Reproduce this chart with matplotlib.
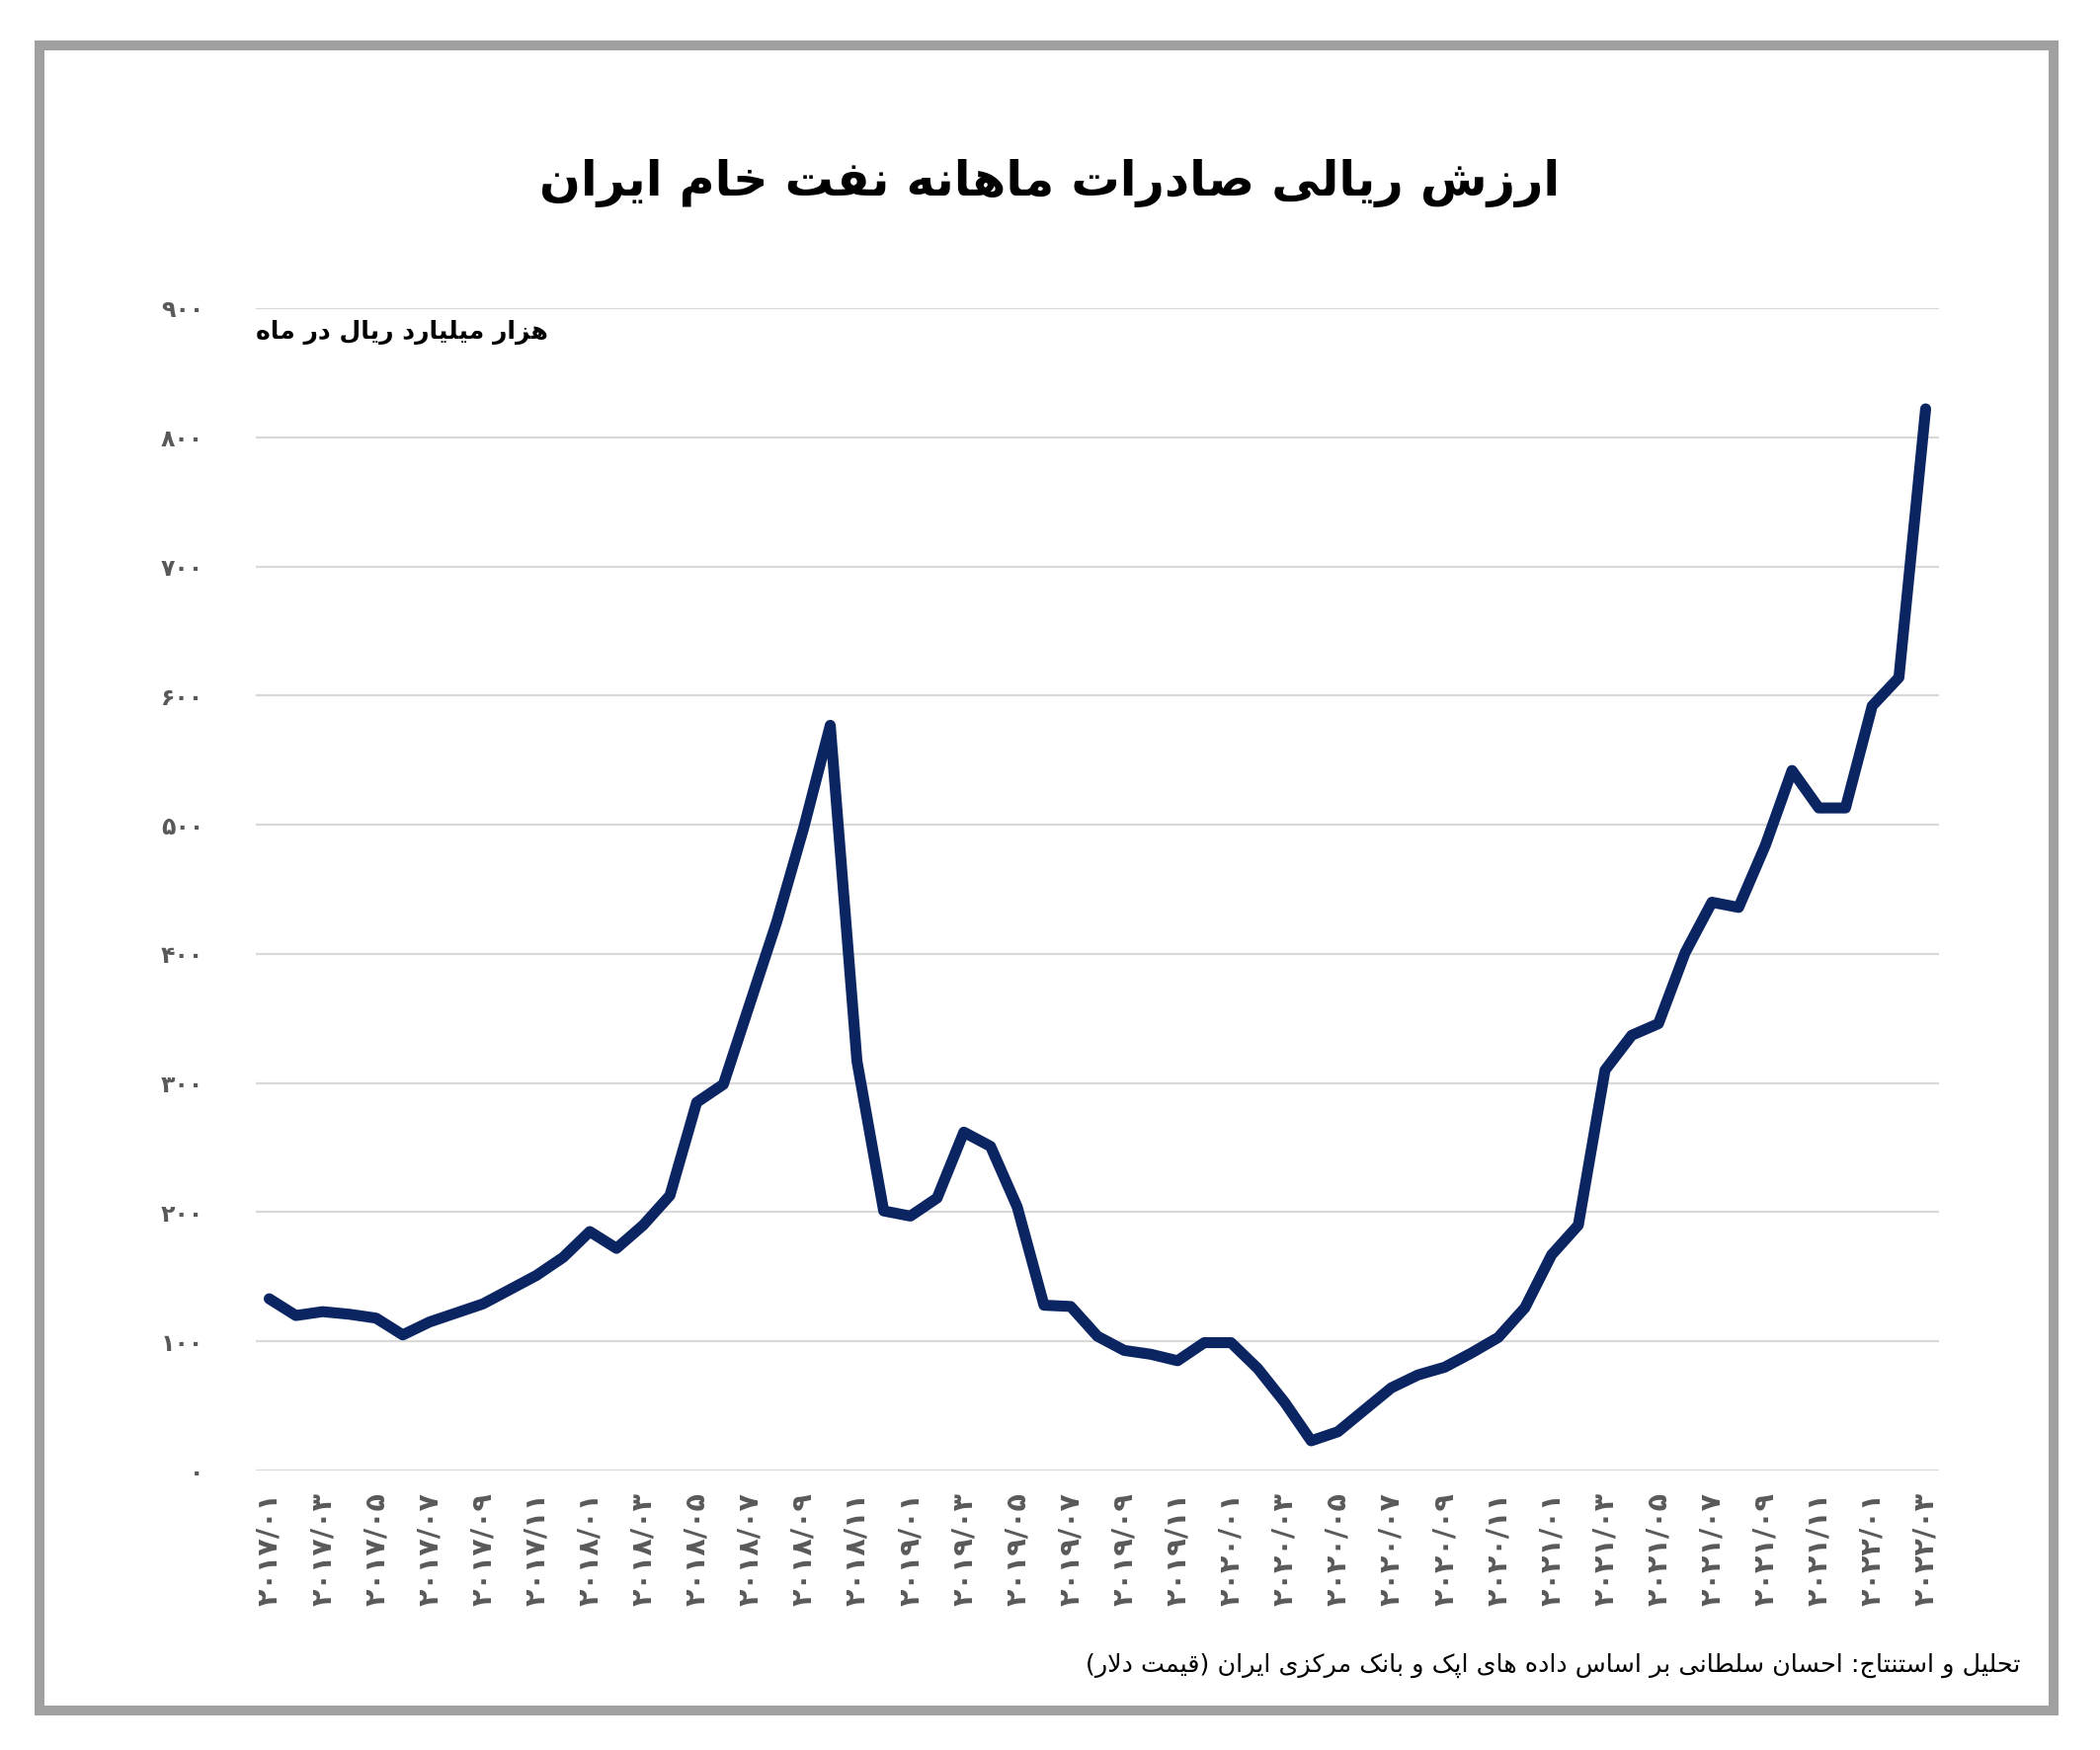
import matplotlib
matplotlib.use("Agg")
import matplotlib.pyplot as plt
from matplotlib.patches import Rectangle

# ---------------- data ----------------
months = [f"{y}/{m:02d}" for y in range(2017, 2023) for m in range(1, 13)][:63]
values = [133, 120, 123, 121, 118, 105, 115, 122, 129, 140, 151, 165,
          185, 172, 190, 213, 285, 299, 362, 425, 497, 577, 317, 201,
          197, 211, 262, 251, 204, 128, 127, 104, 93, 90, 85, 99,
          99, 79, 53, 23, 30, 47, 64, 74, 80, 91, 103, 126,
          167, 190, 310, 337, 346, 401, 440, 436, 484, 542, 513, 513,
          592, 614, 822]
yticks = [0, 100, 200, 300, 400, 500, 600, 700, 800, 900]

title_text = "ارزش ریالی صادرات ماهانه نفت خام ایران"
unit_text = "هزار میلیارد ریال در ماه"
source_text = "تحلیل و استنتاج: احسان سلطانی بر اساس داده های اپک و بانک مرکزی ایران (قیمت دلار)"

# ---------------- Persian shaping ----------------
def _f(base, n):
    return tuple(chr(base + k) for k in range(n))

FORMS = {}
for ch, base in [('ب', 0xFE8F), ('ت', 0xFE95), ('ث', 0xFE99), ('ج', 0xFE9D), ('ح', 0xFEA1),
                 ('خ', 0xFEA5), ('س', 0xFEB1), ('ش', 0xFEB5), ('ص', 0xFEB9), ('ض', 0xFEBD),
                 ('ط', 0xFEC1), ('ظ', 0xFEC5), ('ع', 0xFEC9), ('غ', 0xFECD), ('ف', 0xFED1),
                 ('ق', 0xFED5), ('ل', 0xFEDD), ('م', 0xFEE1), ('ن', 0xFEE5), ('ه', 0xFEE9),
                 ('پ', 0xFB56), ('چ', 0xFB7A), ('ک', 0xFB8E), ('گ', 0xFB92), ('ی', 0xFBFC)]:
    FORMS[ch] = _f(base, 4)
for ch, base in [('ا', 0xFE8D), ('د', 0xFEA9), ('ذ', 0xFEAB), ('ر', 0xFEAD), ('ز', 0xFEAF),
                 ('و', 0xFEED), ('ژ', 0xFB8A)]:
    FORMS[ch] = _f(base, 2) + (None, None)


def shape(text):
    chars = list(text)
    n = len(chars)
    res = []
    i = 0
    while i < n:
        c = chars[i]
        if c not in FORMS:
            res.append(c)
            i += 1
            continue
        prev = chars[i - 1] if i > 0 else None
        cp = prev in FORMS and FORMS[prev][2] is not None
        if c == 'ل' and i + 1 < n and chars[i + 1] == 'ا':
            res.append('\uFEFC' if cp else '\uFEFB')
            i += 2
            continue
        nxt = chars[i + 1] if i + 1 < n else None
        cn = FORMS[c][2] is not None and nxt in FORMS
        iso, fin, ini, med = FORMS[c]
        if cp and cn:
            g = med
        elif cp:
            g = fin
        elif cn:
            g = ini
        else:
            g = iso
        res.append(g)
        i += 1
    vis = ''.join(res)[::-1]
    vis = vis.translate(str.maketrans({'(': ')', ')': '('}))
    return vis


def fa_digits(s):
    return s.translate(str.maketrans("0123456789", "۰۱۲۳۴۵۶۷۸۹"))


# ---------------- figure ----------------
W, H = 2126, 1772
fig = plt.figure(figsize=(W / 100, H / 100), dpi=100)
fig.patch.set_facecolor("white")
plt.rcParams['font.family'] = ['DejaVu Sans']

left, right, top, bottom = 259, 1963, 312, 1489
ax = fig.add_axes([left / W, 1 - bottom / H, (right - left) / W, (bottom - top) / H])
x = list(range(len(values)))
ax.plot(x, values, color="#0b2563", lw=8, solid_capstyle="round", solid_joinstyle="round", zorder=3)
ax.set_xlim(-0.5, len(values) - 0.5)
ax.set_ylim(0, 900)
ax.set_yticks(yticks)
ax.set_yticklabels([fa_digits(str(v)) for v in yticks], fontsize=17, color="#595959", fontweight="bold")
ax.set_xticks(x[::2])
ax.set_xticklabels([fa_digits(m) for m in months[::2]], rotation=90, fontsize=20.5,
                   color="#595959", fontweight="bold")
ax.tick_params(axis="y", length=0, pad=38)
ax.tick_params(axis="x", length=0, pad=16)
for s in ax.spines.values():
    s.set_visible(False)
ax.grid(axis="y", color="#d9d9d9", lw=1.6)
ax.set_axisbelow(True)

ax.text(0, 0.979, shape(unit_text), transform=ax.transAxes, ha="left", va="center",
        fontsize=18, fontweight="bold", color="black")

fig.text(0.5, 1 - 186 / H, shape(title_text), ha="center", va="center",
         fontsize=35.4, fontweight="bold", color="black")
fig.text(2045 / W, 1 - 1686 / H, shape(source_text), ha="right", va="center",
         fontsize=18.3, color="black")

fig.patches.append(Rectangle((40 / W, 40 / H), (2078.5 - 40) / W, (1732 - 46) / H,
                             transform=fig.transFigure, fill=False, edgecolor="#a0a0a0", lw=7.2))

fig.savefig("out.png", dpi=100)
